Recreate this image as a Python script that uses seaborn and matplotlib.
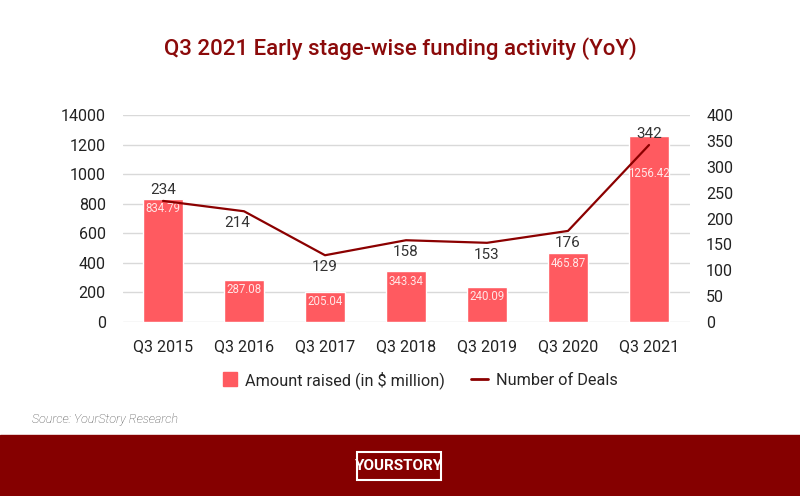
import matplotlib.pyplot as plt
import matplotlib.patches as mpatches
import matplotlib.lines as mlines
import seaborn as sns
import pandas as pd

# Data
quarters = ["Q3 2015", "Q3 2016", "Q3 2017", "Q3 2018", "Q3 2019", "Q3 2020", "Q3 2021"]
amount_raised = [834.79, 287.08, 205.04, 343.34, 240.09, 465.87, 1256.42]
num_deals = [234, 214, 129, 158, 153, 176, 342]
left_ticks = [0, 200, 400, 600, 800, 1000, 1200, 1400]
left_tick_labels = ["0", "200", "400", "600", "800", "1000", "1200", "14000"]
right_ticks = [0, 50, 100, 150, 200, 250, 300, 350, 400]

df = pd.DataFrame({"quarter": quarters, "amount": amount_raised, "deals": num_deals})
df["pos"] = range(len(df))

sns.set_style("white")
plt.rcParams["font.family"] = ["Roboto", "DejaVu Sans"]

BAR = "#FF5A60"
LINE = "#8B0000"
TITLE = "#8B0A0A"

fig = plt.figure(figsize=(8, 4.96), dpi=100)
ax = fig.add_axes([122.5 / 800, 1 - 322 / 496, 567 / 800, 207 / 496])

sns.barplot(data=df, x="quarter", y="amount", color=BAR, width=0.5,
            saturation=1, ax=ax, zorder=2)
ax.set_xlim(-0.5, 6.5)
ax.set_ylim(0, 1400)
ax.set_yticks(left_ticks)
ax.set_yticklabels(left_tick_labels)
ax.set_xlabel("")
ax.set_ylabel("")
ax.grid(axis="y", color="#D9D9D9", linewidth=1, zorder=0)
ax.set_axisbelow(True)
for s in ax.spines.values():
    s.set_visible(False)
ax.tick_params(axis="both", length=0, labelsize=11.5, colors="#222222")
ax.tick_params(axis="y", pad=12)
ax.tick_params(axis="x", pad=12)

# bar value labels inside the top of each bar
bar_label_drop = [10, 10, 10, 10, 10, 10, 37]
for i, v in enumerate(amount_raised):
    ax.annotate(f"{v:.2f}", (i, v), xytext=(0, -bar_label_drop[i]),
                textcoords="offset pixels", ha="center", va="center",
                fontsize=8.3, color="#FFE6E6", zorder=5)

ax2 = ax.twinx()
sns.lineplot(data=df, x="pos", y="deals", color=LINE, linewidth=1.6, ax=ax2,
             zorder=4)
ax2.set_xlim(-0.5, 6.5)
ax2.set_ylim(0, 400)
ax2.set_yticks(right_ticks)
ax2.set_xlabel("")
ax2.set_ylabel("")
for s in ax2.spines.values():
    s.set_visible(False)
ax2.tick_params(axis="y", length=0, labelsize=11.5, colors="#222222", pad=12)

# deal count labels
deal_label_above = [True, False, False, False, False, False, True]
for i, v in enumerate(num_deals):
    dy = 11 if deal_label_above[i] else -12
    dx = -7 if i == 1 else 0
    ax2.annotate(str(v), (i, v), xytext=(dx, dy), textcoords="offset pixels",
                 ha="center", va="center", fontsize=11, color="#333333")

# title
fig.text(0.5, 1 - 49 / 496, "Q3 2021 Early stage-wise funding activity (YoY)",
         ha="center", va="center", fontsize=16, fontweight="medium", color=TITLE)

# legend
handles = [mlines.Line2D([], [], marker="s", linestyle="none", markersize=10,
                         color=BAR, label="Amount raised (in $ million)"),
           mlines.Line2D([], [], color=LINE, linewidth=2, label="Number of Deals")]
fig.legend(handles=handles, loc="center", bbox_to_anchor=(0.524, 1 - 380 / 496),
           ncol=2, frameon=False, fontsize=11.7, handlelength=1.05,
           columnspacing=1.6, handletextpad=0.45)

# source
fig.text(32 / 800, 1 - 420 / 496, "Source: YourStory Research", ha="left",
         va="center", fontsize=9, style="italic", color="#4A4A4A",
         fontweight="light")

# footer band with logo
fig.patches.append(mpatches.Rectangle((0, 0), 1, 61 / 496, transform=fig.transFigure,
                                      color="#850000", zorder=0))
fig.patches.append(mpatches.Rectangle((357 / 800, 1 - 480 / 496), 84 / 800, 28 / 496,
                                      transform=fig.transFigure, fill=False,
                                      edgecolor="white", linewidth=1.5, zorder=1))
fig.text(399 / 800, 1 - 466 / 496, "YOURSTORY", ha="center", va="center",
         fontsize=11, fontweight="bold", color="white")

fig.savefig("out.png", dpi=100)
